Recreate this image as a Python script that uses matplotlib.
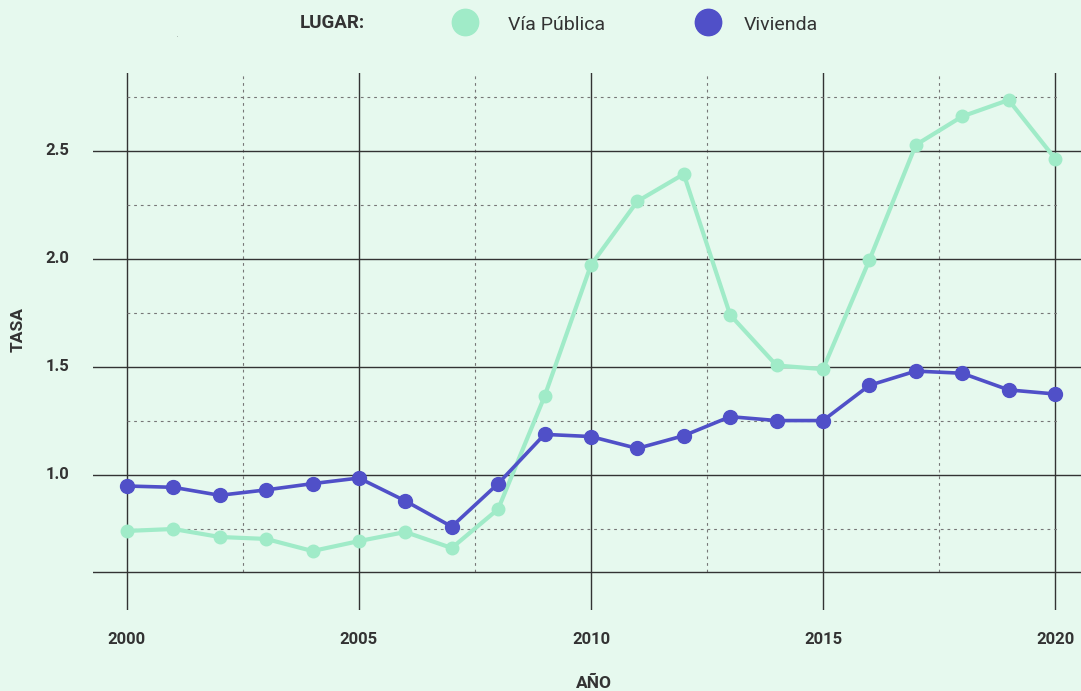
import matplotlib.pyplot as plt
from matplotlib.lines import Line2D

# data
years = list(range(2000, 2021))
via_publica = [0.741, 0.750, 0.713, 0.704, 0.648, 0.694, 0.736, 0.662, 0.842, 1.364,
               1.972, 2.267, 2.393, 1.741, 1.507, 1.490, 1.995, 2.528, 2.660, 2.736, 2.465]
vivienda = [0.949, 0.943, 0.906, 0.931, 0.960, 0.986, 0.880, 0.761, 0.960, 1.188,
            1.178, 1.123, 1.182, 1.270, 1.252, 1.252, 1.415, 1.481, 1.471, 1.394, 1.375]

major_x = [2000, 2005, 2010, 2015, 2020]
minor_x = [2002.5, 2007.5, 2012.5, 2017.5]
major_y = [1.0, 1.5, 2.0, 2.5]
minor_y = [0.75, 1.25, 1.75, 2.25, 2.75]

BG = "#e6f9ee"
GREEN = "#a0ebc8"
PURPLE = "#5050c8"
DARK = "#333333"

plt.rcParams["font.family"] = ["Roboto", "DejaVu Sans"]

fig = plt.figure(figsize=(10.81, 6.91), dpi=100, facecolor=BG)
ax = fig.add_axes([93 / 1081, 81 / 691, 988 / 1081, 537 / 691])
ax.set_facecolor(BG)
ax.set_xlim(1999.27, 2020.56)
ax.set_ylim(0.375, 2.861)
for s in ax.spines.values():
    s.set_visible(False)
ax.set_xticks([])
ax.set_yticks([])

# grid
base = 0.551
for x in major_x:
    ax.axvline(x, color=DARK, lw=1.0, zorder=1)
for x in minor_x:
    ax.plot([x, x], [base, 2.85], color="#777777", lw=0.8, ls=(0, (2.5, 3.5)), zorder=1)
for y in major_y + [base]:
    ax.axhline(y, color=DARK, lw=1.0, zorder=1)
for y in minor_y:
    ax.plot([2000, 2020.1], [y, y], color="#777777", lw=0.8, ls=(0, (2.5, 3.5)), zorder=1)

ax.plot(years, via_publica, color=GREEN, lw=3.0, marker="o", ms=9, zorder=3)
ax.plot(years, vivienda, color=PURPLE, lw=2.6, marker="o", ms=10, zorder=4)

# tick labels
for x in major_x:
    ax.text(x, 0.375 - 29 / 216, str(x), ha="center", va="center", fontsize=12,
            fontweight="bold", color=DARK)
for y in major_y:
    ax.text(1999.27 - 24 / 46.4, y, f"{y:.1f}", ha="right", va="center", fontsize=12,
            fontweight="bold", color=DARK)

fig.text(594 / 1081, 1 - 683 / 691, "AÑO", ha="center", va="center", fontsize=12.5,
         fontweight="bold", color=DARK)
fig.text(18 / 1081, 1 - 330 / 691, "TASA", ha="center", va="center", rotation=90,
         fontsize=12.5, fontweight="bold", color=DARK)
fig.text(177 / 1081, 1 - 38 / 691, ".", ha="center", va="bottom", fontsize=4, color=DARK)

# legend
fig.text(332 / 1081, 1 - 23 / 691, "LUGAR:", ha="center", va="center", fontsize=13.5,
         fontweight="bold", color=DARK)
fig.add_artist(Line2D([465 / 1081], [1 - 22 / 691], marker="o", ms=19, color=GREEN,
                      transform=fig.transFigure))
fig.text(508 / 1081, 1 - 25 / 691, "Vía Pública", ha="left", va="center", fontsize=14,
         color=DARK)
fig.add_artist(Line2D([708 / 1081], [1 - 22 / 691], marker="o", ms=19, color=PURPLE,
                      transform=fig.transFigure))
fig.text(744 / 1081, 1 - 25 / 691, "Vivienda", ha="left", va="center", fontsize=14,
         color=DARK)

fig.savefig("out.png", dpi=100, facecolor=BG)
